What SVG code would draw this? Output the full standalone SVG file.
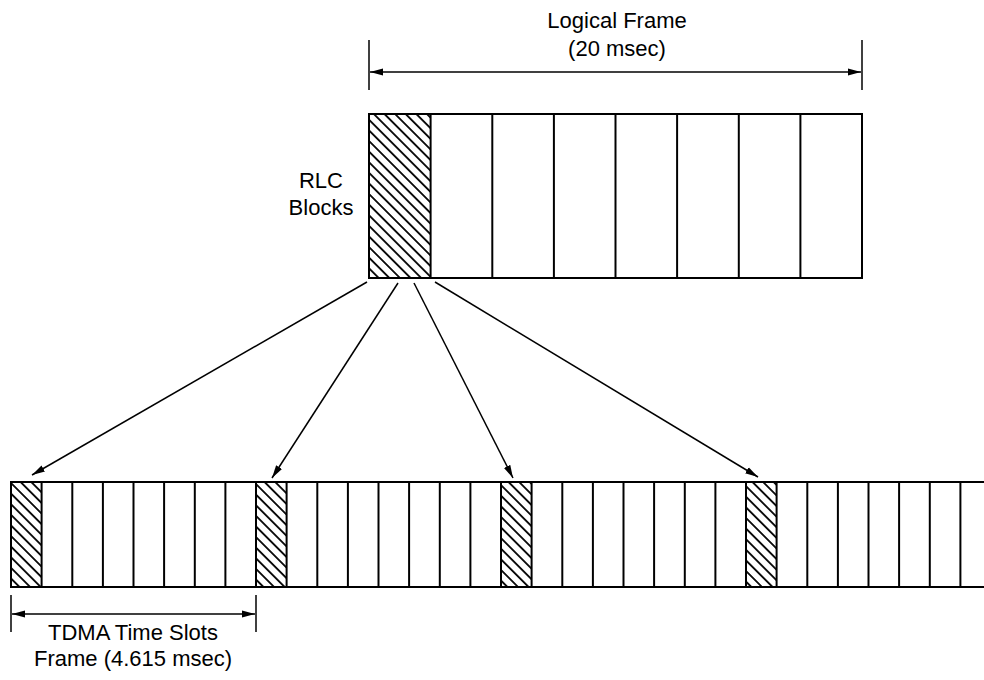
<svg xmlns="http://www.w3.org/2000/svg" width="984" height="680" viewBox="0 0 984 680">
<style>
.t{font-family:"Liberation Sans",Arial,sans-serif;font-size:22px;fill:#000;text-anchor:middle}
.box{fill:none;stroke:#000;stroke-width:2}
.div{stroke:#000;stroke-width:2}
.dim{stroke:#000;stroke-width:1.5;fill:none}
.con{stroke:#000;stroke-width:1.5;fill:none}
</style>
<defs>
<pattern id="hatch" patternUnits="userSpaceOnUse" width="10" height="7.5" patternTransform="rotate(45)">
<rect width="10" height="7.5" fill="#fff"/>
<line x1="0" y1="3.75" x2="10" y2="3.75" stroke="#000" stroke-width="1.8"/>
</pattern>
<marker id="ah" markerUnits="userSpaceOnUse" markerWidth="14" markerHeight="8" refX="13" refY="4" orient="auto-start-reverse">
<path d="M0,0.5 L13,4 L0,7.5 Z" fill="#000"/>
</marker>
</defs>
<rect width="984" height="680" fill="#fff"/>

<g id="logical-frame-dim">
<line class="dim" x1="369" y1="40" x2="369" y2="90"/>
<line class="dim" x1="862" y1="40" x2="862" y2="90"/>
<line class="dim" x1="370" y1="72" x2="861" y2="72" marker-start="url(#ah)" marker-end="url(#ah)"/>
<text class="t" x="617" y="28">Logical Frame</text>
<text class="t" x="617" y="56">(20 msec)</text>
</g>

<g id="rlc-label">
<text class="t" x="321" y="188">RLC</text>
<text class="t" x="321" y="215">Blocks</text>
</g>

<g id="rlc-blocks">
<rect x="369" y="114" width="61.6" height="164" fill="url(#hatch)"/>
<rect class="box" x="369" y="114" width="493" height="164"/>
<line class="div" x1="430.6" y1="114" x2="430.6" y2="278"/>
<line class="div" x1="492.3" y1="114" x2="492.3" y2="278"/>
<line class="div" x1="553.9" y1="114" x2="553.9" y2="278"/>
<line class="div" x1="615.5" y1="114" x2="615.5" y2="278"/>
<line class="div" x1="677.1" y1="114" x2="677.1" y2="278"/>
<line class="div" x1="738.8" y1="114" x2="738.8" y2="278"/>
<line class="div" x1="800.4" y1="114" x2="800.4" y2="278"/>
</g>

<g id="tdma-strip">
<rect x="11" y="482" width="30.6" height="105" fill="url(#hatch)"/>
<rect x="256" y="482" width="30.6" height="105" fill="url(#hatch)"/>
<rect x="501" y="482" width="30.6" height="105" fill="url(#hatch)"/>
<rect x="746" y="482" width="30.6" height="105" fill="url(#hatch)"/>
<line class="div" x1="10" y1="482" x2="984" y2="482"/>
<line class="div" x1="10" y1="587" x2="984" y2="587"/>
<line class="div" x1="11" y1="482" x2="11" y2="587"/>
<g class="div">
<line x1="41.6" y1="482" x2="41.6" y2="587"/>
<line x1="72.3" y1="482" x2="72.3" y2="587"/>
<line x1="102.9" y1="482" x2="102.9" y2="587"/>
<line x1="133.5" y1="482" x2="133.5" y2="587"/>
<line x1="164.1" y1="482" x2="164.1" y2="587"/>
<line x1="194.8" y1="482" x2="194.8" y2="587"/>
<line x1="225.4" y1="482" x2="225.4" y2="587"/>
<line x1="256" y1="482" x2="256" y2="587"/>
<line x1="286.6" y1="482" x2="286.6" y2="587"/>
<line x1="317.3" y1="482" x2="317.3" y2="587"/>
<line x1="347.9" y1="482" x2="347.9" y2="587"/>
<line x1="378.5" y1="482" x2="378.5" y2="587"/>
<line x1="409.1" y1="482" x2="409.1" y2="587"/>
<line x1="439.8" y1="482" x2="439.8" y2="587"/>
<line x1="470.4" y1="482" x2="470.4" y2="587"/>
<line x1="501" y1="482" x2="501" y2="587"/>
<line x1="531.6" y1="482" x2="531.6" y2="587"/>
<line x1="562.3" y1="482" x2="562.3" y2="587"/>
<line x1="592.9" y1="482" x2="592.9" y2="587"/>
<line x1="623.5" y1="482" x2="623.5" y2="587"/>
<line x1="654.1" y1="482" x2="654.1" y2="587"/>
<line x1="684.8" y1="482" x2="684.8" y2="587"/>
<line x1="715.4" y1="482" x2="715.4" y2="587"/>
<line x1="746" y1="482" x2="746" y2="587"/>
<line x1="776.6" y1="482" x2="776.6" y2="587"/>
<line x1="807.3" y1="482" x2="807.3" y2="587"/>
<line x1="837.9" y1="482" x2="837.9" y2="587"/>
<line x1="868.5" y1="482" x2="868.5" y2="587"/>
<line x1="899.1" y1="482" x2="899.1" y2="587"/>
<line x1="929.8" y1="482" x2="929.8" y2="587"/>
<line x1="960.4" y1="482" x2="960.4" y2="587"/>
</g>
</g>

<g id="tdma-frame-dim">
<line class="dim" x1="11" y1="595" x2="11" y2="632"/>
<line class="dim" x1="256" y1="595" x2="256" y2="632"/>
<line class="dim" x1="12" y1="614" x2="255" y2="614" marker-start="url(#ah)" marker-end="url(#ah)"/>
<text class="t" x="133" y="640">TDMA Time Slots</text>
<text class="t" x="133" y="666">Frame (4.615 msec)</text>
</g>

<g id="connectors">
<line class="con" x1="367" y1="282" x2="32" y2="475" marker-end="url(#ah)"/>
<line class="con" x1="398" y1="283" x2="272" y2="478" marker-end="url(#ah)"/>
<line class="con" x1="414" y1="283" x2="513" y2="478" marker-end="url(#ah)"/>
<line class="con" x1="435" y1="282" x2="758" y2="477" marker-end="url(#ah)"/>
</g>
</svg>
